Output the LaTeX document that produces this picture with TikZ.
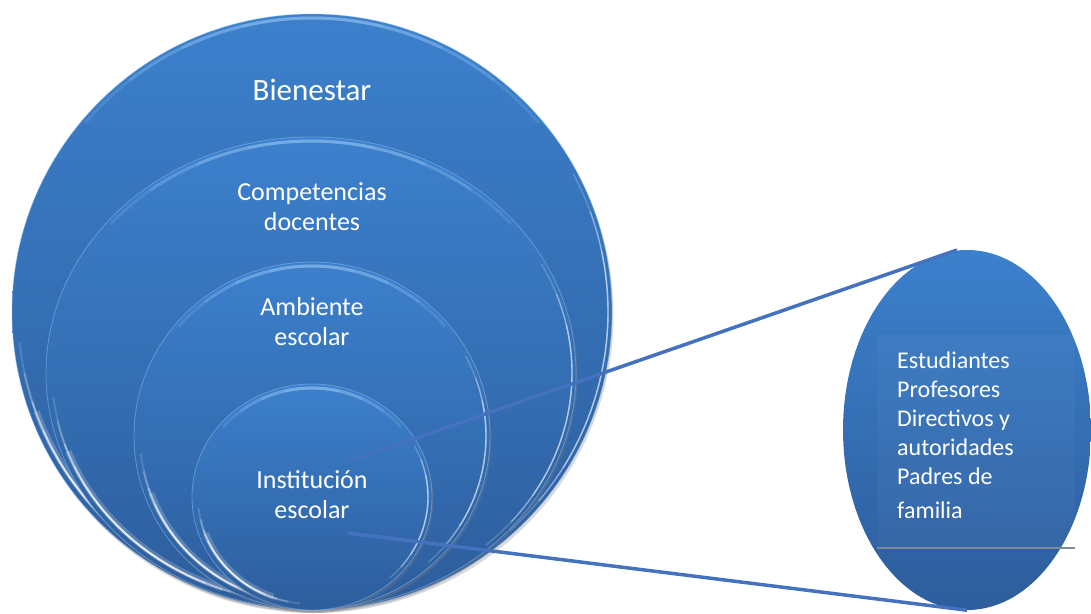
\documentclass[tikz,border=0pt]{standalone}
\usepackage{fontspec}
\setmainfont{Carlito}
\usetikzlibrary{shapes.geometric,shadows}
\definecolor{btop}{RGB}{60,128,204}
\definecolor{bbot}{RGB}{45,93,156}
\definecolor{linec}{RGB}{68,114,190}
\definecolor{hl}{RGB}{140,190,240}
\definecolor{boxline}{RGB}{125,138,155}
\newcommand\earc[6]{% cx cy rx ry start end (radii in pt)
  (#1,#2) ++(#5:{(#3)*1pt} and {(#4)*1pt}) arc[start angle=#5,end angle=#6,x radius={(#3)*1pt},y radius={(#4)*1pt}]}
\newcommand\rimglow[4]{%
  % bottom-left white glow, fading toward its ends
  \foreach \a/\b/\o in {186/264/.15,192/258/.2,198/252/.3,204/246/.35}{
    \draw[white, opacity=\o, line width=2pt] \earc{#1}{#2}{#3-6}{#4-6}{\a}{\b};}
  \draw[white, opacity=.2, line width=6pt] \earc{#1}{#2}{#3-7}{#4-7}{200}{250};
  \foreach \a/\b/\o in {208/244/.35,214/238/.4}{
    \draw[white, opacity=\o, line width=1.2pt] \earc{#1}{#2}{#3-6}{#4-6}{\a}{\b};}
  % right side highlight
  \foreach \a/\b/\o in {-48/28/.2,-40/20/.3,-32/12/.35}{
    \draw[white, opacity=\o, line width=1.4pt] \earc{#1}{#2}{#3-4}{#4-4}{\a}{\b};}
  % top light band
  \foreach \a/\b/\o in {40/140/.2,52/128/.25,64/116/.3,76/104/.3}{
    \draw[hl, opacity=\o, line width=3pt] \earc{#1}{#2}{#3-4}{#4-4}{\a}{\b};}
}
\begin{document}
\begin{tikzpicture}[x=1pt,y=-1pt,
  disc/.style={ellipse, inner sep=0pt, top color=btop, bottom color=bbot, draw=hl, draw opacity=.5, line width=0.8pt,
    drop shadow={opacity=0.3, shadow xshift=1.5pt, shadow yshift=-3pt}},
  lbl/.style={text=white, font=\fontsize{26}{30}\selectfont, align=center, inner sep=0pt},
  conn/.style={draw=linec, line width=3.5pt},
  grpdisc/.style={ellipse, inner sep=0pt, top color=btop, bottom color=bbot}]
\useasboundingbox (0,0) rectangle (1091,613);
% nested discs
\node[disc, minimum width=600pt, minimum height=596pt] (bien) at (312,312) {};
\rimglow{312}{312}{300}{298}
\node[disc, minimum width=530pt, minimum height=472pt] (comp) at (311,373) {};
\rimglow{311}{373}{265}{236}
\node[disc, minimum width=356pt, minimum height=348pt] (amb) at (312,436) {};
\rimglow{312}{436}{178}{174}
\node[disc, minimum width=240pt, minimum height=226pt] (inst) at (312,497) {};
\rimglow{312}{497}{120}{113}
% labels
\node[lbl, font=\fontsize{31}{36}\selectfont] (tbien) at (312,90) {Bienestar};
\node[lbl] (tcomp) at (312,207) {Competencias\\docentes};
\node[lbl] (tamb) at (312,322) {Ambiente\\escolar};
\node[lbl] (tinst) at (312,495) {Institución\\escolar};
% right group
\node[grpdisc, minimum width=248pt, minimum height=360pt] (grp) at (967,430) {};
\node[rectangle, fill=white, fill opacity=0.03, minimum width=198pt, minimum height=213pt, inner sep=0pt] (tbox) at (976,441.5) {};
\draw[boxline, line width=2pt] (tbox.south west) -- (tbox.south east);
\node[text=white, font=\fontsize{24}{29}\selectfont, align=left, anchor=north west, inner sep=0pt] (tgrp) at (897,352)
  {Estudiantes\\Profesores\\Directivos y\\autoridades\\Padres de\\[5pt]familia};
% connectors
\coordinate (s1) at (347,462);
\coordinate (s2) at (348,533);
\coordinate (e1) at (957,250);
\draw[conn] (s1) -- (e1);
\draw[conn] (s2) -- (grp.south);
\end{tikzpicture}
\end{document}
